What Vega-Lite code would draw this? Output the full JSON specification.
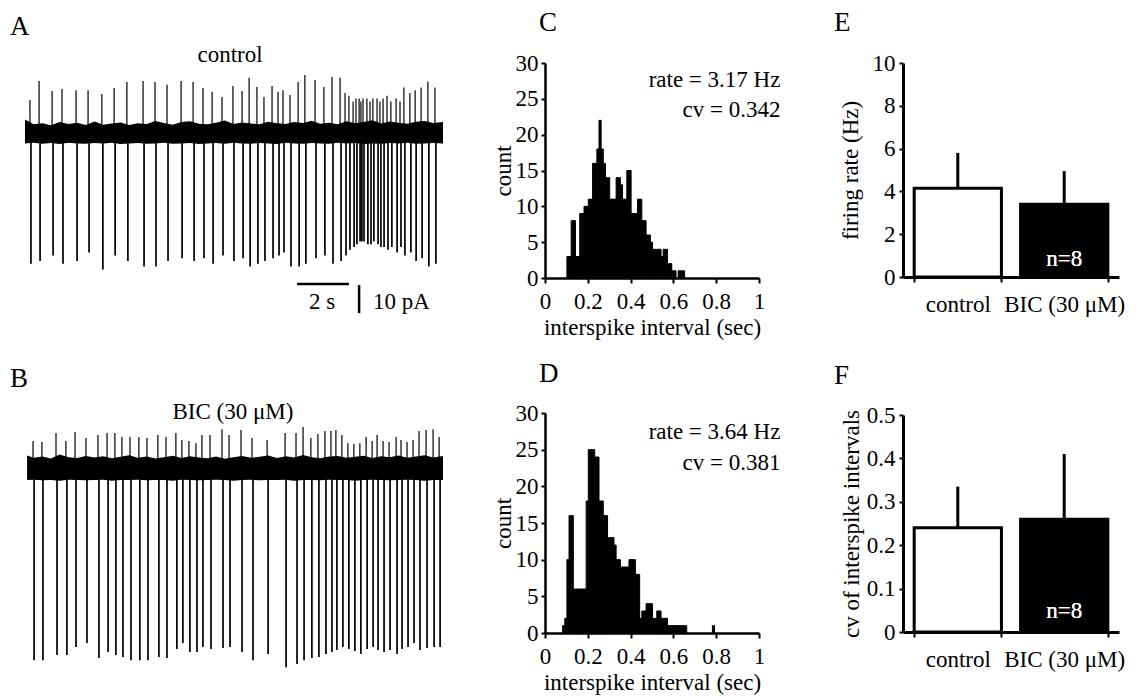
{
  "$schema": "https://vega.github.io/schema/vega-lite/v6.json",
  "padding": 0,
  "background": "white",
  "spacing": 0,
  "config": {
    "view": {"stroke": null},
    "font": "Liberation Serif",
    "axis": {"labelFont": "Liberation Serif", "titleFont": "Liberation Serif", "labelFontSize": 23, "titleFontSize": 23, "titleFontWeight": "normal", "labelColor": "black", "titleColor": "black", "domainColor": "black", "tickColor": "black", "domainWidth": 2.5, "tickWidth": 2, "grid": false, "labelOverlap": false, "labelFlush": false},
    "title": {"font": "Liberation Serif", "fontSize": 27, "fontWeight": "normal", "anchor": "start", "frame": "group", "color": "black"},
    "text": {"font": "Liberation Serif", "fontSize": 23, "color": "black"}
  },
  "datasets": {
    "noiseA": [
      {"t":0,"hi":5.5,"lo":-3.0},{"t":0.33,"hi":3.8,"lo":-2.8},{"t":0.67,"hi":4.2,"lo":-3.1},{"t":1,"hi":3.5,"lo":-2.9},{"t":1.33,"hi":4.6,"lo":-3.2},{"t":1.67,"hi":3.9,"lo":-2.8},{"t":2,"hi":4.4,"lo":-3.0},{"t":2.33,"hi":3.6,"lo":-3.1},{"t":2.67,"hi":4.8,"lo":-2.9},{"t":3,"hi":3.7,"lo":-3.0},{"t":3.33,"hi":4.1,"lo":-2.8},{"t":3.67,"hi":4.5,"lo":-3.2},{"t":4,"hi":3.6,"lo":-3.0},{"t":4.33,"hi":4.2,"lo":-2.9},{"t":4.67,"hi":3.9,"lo":-3.1},{"t":5,"hi":5.0,"lo":-3.0},{"t":5.33,"hi":4.3,"lo":-2.8},{"t":5.67,"hi":3.7,"lo":-3.1},{"t":6,"hi":4.6,"lo":-3.0},{"t":6.33,"hi":4.9,"lo":-2.9},{"t":6.67,"hi":4.0,"lo":-3.2},{"t":7,"hi":3.8,"lo":-3.0},{"t":7.33,"hi":4.4,"lo":-2.9},{"t":7.67,"hi":5.2,"lo":-3.1},{"t":8,"hi":3.9,"lo":-2.8},{"t":8.33,"hi":4.5,"lo":-3.0},{"t":8.67,"hi":4.1,"lo":-3.1},{"t":9,"hi":3.8,"lo":-2.9},{"t":9.33,"hi":4.7,"lo":-3.0},{"t":9.67,"hi":4.2,"lo":-3.2},{"t":10,"hi":3.9,"lo":-2.8},{"t":10.33,"hi":4.6,"lo":-3.0},{"t":10.67,"hi":4.3,"lo":-3.1},{"t":11,"hi":5.1,"lo":-2.9},{"t":11.33,"hi":4.0,"lo":-3.0},{"t":11.67,"hi":4.4,"lo":-3.1},{"t":12,"hi":3.8,"lo":-2.8},{"t":12.33,"hi":4.9,"lo":-3.0},{"t":12.67,"hi":4.2,"lo":-2.9},{"t":13,"hi":4.6,"lo":-3.2},{"t":13.33,"hi":5.3,"lo":-3.0},{"t":13.67,"hi":4.1,"lo":-3.1},{"t":14,"hi":4.8,"lo":-2.9},{"t":14.33,"hi":4.4,"lo":-3.0},{"t":14.67,"hi":4.0,"lo":-2.8},{"t":15,"hi":4.7,"lo":-3.1},{"t":15.33,"hi":5.0,"lo":-3.0},{"t":15.67,"hi":4.3,"lo":-2.9},{"t":16.04,"hi":4.6,"lo":-3.0}
    ],
    "noiseB": [
      {"t":0.08,"hi":5.2,"lo":-3.6},{"t":0.33,"hi":4.4,"lo":-3.5},{"t":0.67,"hi":4.8,"lo":-3.7},{"t":1,"hi":4.1,"lo":-3.6},{"t":1.33,"hi":5.5,"lo":-3.8},{"t":1.67,"hi":4.6,"lo":-3.5},{"t":2,"hi":4.3,"lo":-3.6},{"t":2.33,"hi":5.0,"lo":-3.7},{"t":2.67,"hi":4.5,"lo":-3.6},{"t":3,"hi":4.9,"lo":-3.5},{"t":3.33,"hi":4.2,"lo":-3.8},{"t":3.67,"hi":4.7,"lo":-3.6},{"t":4,"hi":5.3,"lo":-3.6},{"t":4.33,"hi":4.4,"lo":-3.5},{"t":4.67,"hi":4.8,"lo":-3.7},{"t":5,"hi":4.1,"lo":-3.6},{"t":5.33,"hi":4.6,"lo":-3.6},{"t":5.67,"hi":5.1,"lo":-3.8},{"t":6,"hi":4.3,"lo":-3.5},{"t":6.33,"hi":4.9,"lo":-3.6},{"t":6.67,"hi":4.5,"lo":-3.7},{"t":7,"hi":4.2,"lo":-3.6},{"t":7.33,"hi":4.8,"lo":-3.5},{"t":7.67,"hi":4.0,"lo":-3.6},{"t":8,"hi":4.6,"lo":-3.8},{"t":8.33,"hi":5.0,"lo":-3.6},{"t":8.67,"hi":4.4,"lo":-3.5},{"t":9,"hi":4.7,"lo":-3.7},{"t":9.33,"hi":5.2,"lo":-3.6},{"t":9.67,"hi":4.3,"lo":-3.6},{"t":10,"hi":4.9,"lo":-3.5},{"t":10.33,"hi":4.5,"lo":-3.8},{"t":10.67,"hi":5.4,"lo":-3.6},{"t":11,"hi":4.6,"lo":-3.6},{"t":11.33,"hi":4.2,"lo":-3.7},{"t":11.67,"hi":4.8,"lo":-3.5},{"t":12,"hi":5.0,"lo":-3.6},{"t":12.33,"hi":4.4,"lo":-3.6},{"t":12.67,"hi":4.7,"lo":-3.8},{"t":13,"hi":5.1,"lo":-3.6},{"t":13.33,"hi":4.3,"lo":-3.5},{"t":13.67,"hi":4.9,"lo":-3.6},{"t":14,"hi":4.6,"lo":-3.7},{"t":14.33,"hi":5.2,"lo":-3.6},{"t":14.67,"hi":4.4,"lo":-3.5},{"t":15,"hi":4.8,"lo":-3.6},{"t":15.33,"hi":5.3,"lo":-3.8},{"t":15.67,"hi":4.5,"lo":-3.6},{"t":16.04,"hi":5.0,"lo":-3.6}
    ],
    "spikesA": [
      {"t":0.19,"top":12.5,"bot":-46},{"t":0.54,"top":19.3,"bot":-45},{"t":1.04,"top":15.7,"bot":-43},{"t":1.42,"top":16.4,"bot":-46},{"t":1.96,"top":16,"bot":-45},{"t":2.42,"top":16,"bot":-42},{"t":2.95,"top":14.6,"bot":-48},{"t":3.42,"top":16.8,"bot":-43},{"t":3.91,"top":18.9,"bot":-45},{"t":4.53,"top":19.3,"bot":-47},{"t":4.99,"top":18.9,"bot":-47},{"t":5.45,"top":17.9,"bot":-45},{"t":5.99,"top":19.3,"bot":-44},{"t":6.45,"top":18.9,"bot":-45},{"t":6.83,"top":16.8,"bot":-44},{"t":7.18,"top":15.4,"bot":-46},{"t":7.56,"top":13.6,"bot":-43},{"t":7.98,"top":17.5,"bot":-45},{"t":8.33,"top":15.7,"bot":-44},{"t":8.60,"top":20.4,"bot":-47},{"t":8.90,"top":17.1,"bot":-46},{"t":9.17,"top":13.6,"bot":-45},{"t":9.48,"top":17.5,"bot":-44},{"t":9.71,"top":15.4,"bot":-43},{"t":9.90,"top":16,"bot":-42},{"t":10.17,"top":14.3,"bot":-47},{"t":10.48,"top":18.9,"bot":-47},{"t":10.74,"top":21.4,"bot":-46},{"t":11.13,"top":19.6,"bot":-44},{"t":11.47,"top":17.1,"bot":-43},{"t":11.78,"top":20.7,"bot":-46},{"t":12.09,"top":20.4,"bot":-45},{"t":12.28,"top":15,"bot":-43},{"t":12.43,"top":14,"bot":-41},{"t":12.59,"top":12,"bot":-40},{"t":12.70,"top":13,"bot":-39},{"t":12.82,"top":13,"bot":-38},{"t":12.89,"top":12,"bot":-38},{"t":12.97,"top":13,"bot":-38},{"t":13.12,"top":13,"bot":-39},{"t":13.24,"top":12,"bot":-39},{"t":13.35,"top":13,"bot":-38},{"t":13.51,"top":13,"bot":-39},{"t":13.62,"top":12,"bot":-40},{"t":13.74,"top":13,"bot":-40},{"t":13.89,"top":14,"bot":-41},{"t":14.04,"top":12,"bot":-40},{"t":14.24,"top":13,"bot":-42},{"t":14.39,"top":12,"bot":-40},{"t":14.54,"top":17,"bot":-43},{"t":14.77,"top":15,"bot":-42},{"t":14.97,"top":16,"bot":-45},{"t":15.20,"top":17,"bot":-44},{"t":15.46,"top":19,"bot":-47},{"t":15.73,"top":17,"bot":-46}
    ],
    "spikesB": [
      {"t":0.31,"top":10.4,"bot":-67.9},{"t":0.65,"top":10,"bot":-67.9},{"t":1.19,"top":13.2,"bot":-66.1},{"t":1.57,"top":10.4,"bot":-66.1},{"t":1.92,"top":13.6,"bot":-63.2},{"t":2.34,"top":11.4,"bot":-61.8},{"t":2.80,"top":12.5,"bot":-67.1},{"t":3.15,"top":13.2,"bot":-65},{"t":3.45,"top":13.2,"bot":-66.1},{"t":3.72,"top":11.8,"bot":-66.8},{"t":4.03,"top":11.8,"bot":-67.9},{"t":4.37,"top":11.8,"bot":-67.9},{"t":4.68,"top":11.4,"bot":-67.9},{"t":5.10,"top":12.5,"bot":-66.8},{"t":5.41,"top":11.8,"bot":-67.1},{"t":5.79,"top":13.2,"bot":-63.9},{"t":6.02,"top":10.7,"bot":-61.8},{"t":6.29,"top":10.4,"bot":-65},{"t":6.56,"top":9.6,"bot":-65},{"t":6.79,"top":12.5,"bot":-63.2},{"t":7.10,"top":12.5,"bot":-63.9},{"t":7.56,"top":14.6,"bot":-63.6},{"t":7.83,"top":12.5,"bot":-63.2},{"t":8.29,"top":14.3,"bot":-65},{"t":8.71,"top":11.4,"bot":-67.9},{"t":9.29,"top":10.7,"bot":-65.7},{"t":9.98,"top":13.2,"bot":-70.4},{"t":10.40,"top":13.2,"bot":-69.3},{"t":10.67,"top":15.4,"bot":-67.9},{"t":10.97,"top":11.4,"bot":-67.1},{"t":11.24,"top":12.9,"bot":-66.8},{"t":11.51,"top":13.9,"bot":-65.7},{"t":11.74,"top":13.9,"bot":-65},{"t":11.93,"top":14.3,"bot":-64.3},{"t":12.16,"top":12.5,"bot":-63.2},{"t":12.39,"top":9.6,"bot":-63.9},{"t":12.62,"top":9.3,"bot":-64.6},{"t":12.85,"top":9.6,"bot":-65.7},{"t":13.09,"top":11.8,"bot":-63.9},{"t":13.32,"top":10.4,"bot":-63.2},{"t":13.51,"top":12.5,"bot":-64.3},{"t":13.74,"top":10.4,"bot":-65},{"t":13.97,"top":10,"bot":-64.3},{"t":14.24,"top":11.8,"bot":-65.7},{"t":14.43,"top":10.7,"bot":-63.9},{"t":14.66,"top":10,"bot":-63.2},{"t":14.89,"top":10.7,"bot":-61.8},{"t":15.12,"top":13.9,"bot":-64.3},{"t":15.39,"top":14.3,"bot":-63.6},{"t":15.66,"top":14.6,"bot":-63.2},{"t":15.89,"top":11.8,"bot":-63.2}
    ],
    "histC": [
      {"t":0.10,"n":3},{"t":0.11,"n":3},{"t":0.12,"n":8},{"t":0.13,"n":8},{"t":0.14,"n":3},{"t":0.15,"n":3},{"t":0.16,"n":9},{"t":0.17,"n":9},{"t":0.18,"n":10},{"t":0.19,"n":10},{"t":0.20,"n":11},{"t":0.21,"n":11},{"t":0.22,"n":16},{"t":0.23,"n":16},{"t":0.24,"n":18},{"t":0.25,"n":22},{"t":0.26,"n":18},{"t":0.27,"n":16},{"t":0.28,"n":14},{"t":0.29,"n":14},{"t":0.30,"n":11},{"t":0.31,"n":11},{"t":0.32,"n":11},{"t":0.33,"n":14},{"t":0.34,"n":14},{"t":0.35,"n":13},{"t":0.36,"n":11},{"t":0.37,"n":11},{"t":0.38,"n":15},{"t":0.39,"n":15},{"t":0.40,"n":9},{"t":0.41,"n":9},{"t":0.42,"n":9},{"t":0.43,"n":11},{"t":0.44,"n":11},{"t":0.45,"n":8},{"t":0.46,"n":8},{"t":0.47,"n":6},{"t":0.48,"n":6},{"t":0.49,"n":5},{"t":0.50,"n":4},{"t":0.51,"n":4},{"t":0.52,"n":4},{"t":0.53,"n":4},{"t":0.54,"n":3},{"t":0.55,"n":4},{"t":0.56,"n":4},{"t":0.57,"n":2},{"t":0.58,"n":2},{"t":0.59,"n":1},{"t":0.60,"n":1},{"t":0.62,"n":1},{"t":0.63,"n":1},{"t":0.64,"n":1}
    ],
    "histD": [
      {"t":0.08,"n":1},{"t":0.09,"n":2},{"t":0.10,"n":10},{"t":0.11,"n":16},{"t":0.12,"n":16},{"t":0.13,"n":6},{"t":0.14,"n":6},{"t":0.15,"n":6},{"t":0.16,"n":6},{"t":0.17,"n":6},{"t":0.18,"n":6},{"t":0.19,"n":18},{"t":0.20,"n":25},{"t":0.21,"n":25},{"t":0.22,"n":25},{"t":0.23,"n":24},{"t":0.24,"n":24},{"t":0.25,"n":18},{"t":0.26,"n":18},{"t":0.27,"n":16},{"t":0.28,"n":16},{"t":0.29,"n":13},{"t":0.30,"n":13},{"t":0.31,"n":13},{"t":0.32,"n":12},{"t":0.33,"n":10},{"t":0.34,"n":10},{"t":0.35,"n":9},{"t":0.36,"n":9},{"t":0.37,"n":9},{"t":0.38,"n":9},{"t":0.39,"n":10},{"t":0.40,"n":10},{"t":0.41,"n":10},{"t":0.42,"n":8},{"t":0.43,"n":8},{"t":0.44,"n":2},{"t":0.45,"n":3},{"t":0.46,"n":3},{"t":0.47,"n":4},{"t":0.48,"n":4},{"t":0.49,"n":4},{"t":0.50,"n":2},{"t":0.51,"n":2},{"t":0.52,"n":3},{"t":0.53,"n":3},{"t":0.54,"n":2},{"t":0.55,"n":2},{"t":0.56,"n":2},{"t":0.57,"n":1},{"t":0.58,"n":1},{"t":0.59,"n":1},{"t":0.60,"n":1},{"t":0.61,"n":1},{"t":0.62,"n":1},{"t":0.63,"n":1},{"t":0.64,"n":1},{"t":0.65,"n":1},{"t":0.78,"n":1}
    ],
    "rate": [
      {"cond":"control","mean":4.15,"upper":5.8},
      {"cond":"BIC (30 μM)","mean":3.4,"upper":4.95}
    ],
    "cv": [
      {"cond":"control","mean":0.24,"upper":0.335},
      {"cond":"BIC (30 μM)","mean":0.26,"upper":0.41}
    ]
  },
  "hconcat": [
    {
      "bounds": "flush",
      "spacing": 0,
      "vconcat": [
        {
          "width": 470,
          "height": 350,
          "layer": [
            {
              "data": {"name": "noiseA"},
              "mark": {"type": "area", "color": "black", "opacity": 1},
              "encoding": {
                "x": {"field": "t", "type": "quantitative", "scale": {"domain": [-0.959, 17.076], "nice": false, "zero": false}, "axis": null},
                "y": {"field": "hi", "type": "quantitative", "scale": {"domain": [-76.79, 48.21], "nice": false, "zero": false}, "axis": null},
                "y2": {"field": "lo"}
              }
            },
            {
              "data": {"name": "spikesA"},
              "mark": {"type": "rule", "color": "black", "strokeWidth": 1.2},
              "encoding": {
                "x": {"field": "t", "type": "quantitative"},
                "y": {"field": "top", "type": "quantitative"},
                "y2": {"datum": 0}
              }
            },
            {
              "data": {"name": "spikesA"},
              "mark": {"type": "rule", "color": "black", "strokeWidth": 1.7, "xOffset": 1},
              "encoding": {
                "x": {"field": "t", "type": "quantitative"},
                "y": {"field": "bot", "type": "quantitative"},
                "y2": {"datum": 0}
              }
            },
            {
              "data": {"values": [{}]},
              "mark": {"type": "rule", "color": "black", "strokeWidth": 2.5},
              "encoding": {
                "x": {"datum": 10.44, "type": "quantitative"},
                "x2": {"datum": 12.43},
                "y": {"datum": -53.2, "type": "quantitative"}
              }
            },
            {
              "data": {"values": [{}]},
              "mark": {"type": "rule", "color": "black", "strokeWidth": 2.5},
              "encoding": {
                "x": {"datum": 12.82, "type": "quantitative"},
                "y": {"datum": -53.6, "type": "quantitative"},
                "y2": {"datum": -63.6}
              }
            },
            {
              "data": {"values": [{}]},
              "mark": {"type": "text", "text": "2 s", "align": "center", "baseline": "middle"},
              "encoding": {"x": {"datum": 11.4, "type": "quantitative"}, "y": {"datum": -59.5, "type": "quantitative"}}
            },
            {
              "data": {"values": [{}]},
              "mark": {"type": "text", "text": "10 pA", "align": "left", "baseline": "middle"},
              "encoding": {"x": {"datum": 13.35, "type": "quantitative"}, "y": {"datum": -59.5, "type": "quantitative"}}
            },
            {
              "data": {"values": [{}]},
              "mark": {"type": "text", "text": "control", "align": "center", "baseline": "middle"},
              "encoding": {"x": {"datum": 7.87, "type": "quantitative"}, "y": {"datum": 28.6, "type": "quantitative"}}
            },
            {
              "data": {"values": [{}]},
              "mark": {"type": "text", "text": "A", "align": "left", "baseline": "middle", "fontSize": 27},
              "encoding": {"x": {"datum": -0.58, "type": "quantitative"}, "y": {"datum": 38.6, "type": "quantitative"}}
            }
          ]
        },
        {
          "width": 470,
          "height": 346,
          "layer": [
            {
              "data": {"name": "noiseB"},
              "mark": {"type": "area", "color": "black", "opacity": 1},
              "encoding": {
                "x": {"field": "t", "type": "quantitative", "scale": {"domain": [-0.959, 17.076], "nice": false, "zero": false}, "axis": null},
                "y": {"field": "hi", "type": "quantitative", "scale": {"domain": [-80.71, 42.86], "nice": false, "zero": false}, "axis": null},
                "y2": {"field": "lo"}
              }
            },
            {
              "data": {"name": "spikesB"},
              "mark": {"type": "rule", "color": "black", "strokeWidth": 1.2},
              "encoding": {
                "x": {"field": "t", "type": "quantitative"},
                "y": {"field": "top", "type": "quantitative"},
                "y2": {"datum": 0}
              }
            },
            {
              "data": {"name": "spikesB"},
              "mark": {"type": "rule", "color": "black", "strokeWidth": 1.7, "xOffset": 1},
              "encoding": {
                "x": {"field": "t", "type": "quantitative"},
                "y": {"field": "bot", "type": "quantitative"},
                "y2": {"datum": 0}
              }
            },
            {
              "data": {"values": [{}]},
              "mark": {"type": "text", "text": "BIC (30 μM)", "align": "center", "baseline": "middle"},
              "encoding": {"x": {"datum": 7.98, "type": "quantitative"}, "y": {"datum": 20.7, "type": "quantitative"}}
            },
            {
              "data": {"values": [{}]},
              "mark": {"type": "text", "text": "B", "align": "left", "baseline": "middle", "fontSize": 27},
              "encoding": {"x": {"datum": -0.58, "type": "quantitative"}, "y": {"datum": 32.5, "type": "quantitative"}}
            }
          ]
        }
      ]
    },
    {
      "width": 22, "height": 696,
      "data": {"values": [{}]},
      "mark": {"type": "point", "opacity": 0}
    },
    {
      "bounds": "flush",
      "spacing": 0,
      "vconcat": [
        {"width": 214, "height": 63, "data": {"values": [{}]}, "mark": {"type": "point", "opacity": 0}},
        {
          "width": 214,
          "height": 215,
          "title": {"text": "C", "dx": -6, "offset": 15},
          "layer": [
            {
              "data": {"name": "histC"},
              "mark": {"type": "bar", "color": "black", "stroke": "black", "strokeWidth": 1, "binSpacing": 0},
              "encoding": {
                "x": {"field": "t", "type": "quantitative", "bin": {"binned": true, "step": 0.01}, "scale": {"domain": [0, 1], "nice": false}, "axis": {"values": [0, 0.2, 0.4, 0.6, 0.8, 1], "format": "~g", "title": "interspike interval (sec)", "tickSize": 5, "labelPadding": 7, "titlePadding": 3}},
                "y": {"field": "n", "type": "quantitative", "scale": {"domain": [0, 30], "nice": false}, "axis": {"values": [0, 5, 10, 15, 20, 25, 30], "title": "count", "tickSize": 4, "labelPadding": 3, "titlePadding": 0}}
              }
            },
            {
              "data": {"values": [{}]},
              "mark": {"type": "text", "text": "rate = 3.17 Hz", "align": "right", "baseline": "middle"},
              "encoding": {
                "x": {"datum": 1.1, "type": "quantitative", "axis": {"values": [0, 0.2, 0.4, 0.6, 0.8, 1], "format": "~g", "title": "interspike interval (sec)", "tickSize": 5, "labelPadding": 7, "titlePadding": 3}},
                "y": {"datum": 27.6, "type": "quantitative", "axis": {"values": [0, 5, 10, 15, 20, 25, 30], "title": "count", "tickSize": 4, "labelPadding": 3, "titlePadding": 0}}
              }
            },
            {
              "data": {"values": [{}]},
              "mark": {"type": "text", "text": "cv = 0.342", "align": "right", "baseline": "middle"},
              "encoding": {
                "x": {"datum": 1.1, "type": "quantitative", "axis": {"values": [0, 0.2, 0.4, 0.6, 0.8, 1], "format": "~g", "title": "interspike interval (sec)", "tickSize": 5, "labelPadding": 7, "titlePadding": 3}},
                "y": {"datum": 23.4, "type": "quantitative", "axis": {"values": [0, 5, 10, 15, 20, 25, 30], "title": "count", "tickSize": 4, "labelPadding": 3, "titlePadding": 0}}
              }
            }
          ]
        },
        {"width": 214, "height": 135, "data": {"values": [{}]}, "mark": {"type": "point", "opacity": 0}},
        {
          "width": 214,
          "height": 220,
          "title": {"text": "D", "dx": -6, "offset": 14},
          "layer": [
            {
              "data": {"name": "histD"},
              "mark": {"type": "bar", "color": "black", "stroke": "black", "strokeWidth": 1, "binSpacing": 0},
              "encoding": {
                "x": {"field": "t", "type": "quantitative", "bin": {"binned": true, "step": 0.01}, "scale": {"domain": [0, 1], "nice": false}, "axis": {"values": [0, 0.2, 0.4, 0.6, 0.8, 1], "format": "~g", "title": "interspike interval (sec)", "tickSize": 5, "labelPadding": 7, "titlePadding": 3}},
                "y": {"field": "n", "type": "quantitative", "scale": {"domain": [0, 30], "nice": false}, "axis": {"values": [0, 5, 10, 15, 20, 25, 30], "title": "count", "tickSize": 4, "labelPadding": 3, "titlePadding": 0}}
              }
            },
            {
              "data": {"values": [{}]},
              "mark": {"type": "text", "text": "rate = 3.64 Hz", "align": "right", "baseline": "middle"},
              "encoding": {
                "x": {"datum": 1.1, "type": "quantitative", "axis": {"values": [0, 0.2, 0.4, 0.6, 0.8, 1], "format": "~g", "title": "interspike interval (sec)", "tickSize": 5, "labelPadding": 7, "titlePadding": 3}},
                "y": {"datum": 27.4, "type": "quantitative", "axis": {"values": [0, 5, 10, 15, 20, 25, 30], "title": "count", "tickSize": 4, "labelPadding": 3, "titlePadding": 0}}
              }
            },
            {
              "data": {"values": [{}]},
              "mark": {"type": "text", "text": "cv = 0.381", "align": "right", "baseline": "middle"},
              "encoding": {
                "x": {"datum": 1.1, "type": "quantitative", "axis": {"values": [0, 0.2, 0.4, 0.6, 0.8, 1], "format": "~g", "title": "interspike interval (sec)", "tickSize": 5, "labelPadding": 7, "titlePadding": 3}},
                "y": {"datum": 23.2, "type": "quantitative", "axis": {"values": [0, 5, 10, 15, 20, 25, 30], "title": "count", "tickSize": 4, "labelPadding": 3, "titlePadding": 0}}
              }
            }
          ]
        }
      ]
    },
    {
      "width": 53, "height": 696,
      "data": {"values": [{}]},
      "mark": {"type": "point", "opacity": 0}
    },
    {
      "bounds": "flush",
      "spacing": 0,
      "vconcat": [
        {"width": 216, "height": 63, "data": {"values": [{}]}, "mark": {"type": "point", "opacity": 0}},
        {
          "width": 216,
          "height": 214,
          "title": {"text": "E", "dx": -69, "offset": 15},
          "data": {"name": "rate"},
          "layer": [
            {
              "mark": {"type": "bar", "stroke": "black", "strokeWidth": 3},
              "encoding": {
                "x": {"field": "cond", "type": "nominal", "sort": null, "scale": {"paddingInner": 0.18, "paddingOuter": 0.105}, "axis": {"title": null, "labelAngle": 0, "tickBand": "extent", "tickSize": 5, "labelPadding": 11, "domainWidth": 3}},
                "y": {"field": "mean", "type": "quantitative", "scale": {"domain": [0, 10], "nice": false}, "axis": {"values": [0, 2, 4, 6, 8, 10], "title": "firing rate (Hz)", "tickSize": 4, "labelPadding": 4, "titlePadding": 10, "domainWidth": 3}},
                "fill": {"field": "cond", "type": "nominal", "scale": {"domain": ["control", "BIC (30 μM)"], "range": ["white", "black"]}, "legend": null}
              }
            },
            {
              "mark": {"type": "rule", "color": "black", "strokeWidth": 3},
              "encoding": {
                "x": {"field": "cond", "type": "nominal", "sort": null},
                "y": {"field": "mean", "type": "quantitative"},
                "y2": {"field": "upper"}
              }
            },
            {
              "mark": {"type": "text", "text": "n=8", "color": "white", "align": "center", "baseline": "middle"},
              "encoding": {"x": {"datum": "BIC (30 μM)", "type": "nominal"}, "y": {"datum": 0.85, "type": "quantitative"}}
            }
          ]
        },
        {"width": 216, "height": 138, "data": {"values": [{}]}, "mark": {"type": "point", "opacity": 0}},
        {
          "width": 216,
          "height": 217,
          "title": {"text": "F", "dx": -69, "offset": 14},
          "data": {"name": "cv"},
          "layer": [
            {
              "mark": {"type": "bar", "stroke": "black", "strokeWidth": 3},
              "encoding": {
                "x": {"field": "cond", "type": "nominal", "sort": null, "scale": {"paddingInner": 0.18, "paddingOuter": 0.105}, "axis": {"title": null, "labelAngle": 0, "tickBand": "extent", "tickSize": 5, "labelPadding": 11, "domainWidth": 3}},
                "y": {"field": "mean", "type": "quantitative", "scale": {"domain": [0, 0.5], "nice": false}, "axis": {"values": [0, 0.1, 0.2, 0.3, 0.4, 0.5], "format": "~g", "title": "cv of interspike intervals", "tickSize": 4, "labelPadding": 4, "titlePadding": 3, "domainWidth": 3}},
                "fill": {"field": "cond", "type": "nominal", "scale": {"domain": ["control", "BIC (30 μM)"], "range": ["white", "black"]}, "legend": null}
              }
            },
            {
              "mark": {"type": "rule", "color": "black", "strokeWidth": 3},
              "encoding": {
                "x": {"field": "cond", "type": "nominal", "sort": null},
                "y": {"field": "mean", "type": "quantitative"},
                "y2": {"field": "upper"}
              }
            },
            {
              "mark": {"type": "text", "text": "n=8", "color": "white", "align": "center", "baseline": "middle"},
              "encoding": {"x": {"datum": "BIC (30 μM)", "type": "nominal"}, "y": {"datum": 0.048, "type": "quantitative"}}
            }
          ]
        }
      ]
    }
  ]
}
